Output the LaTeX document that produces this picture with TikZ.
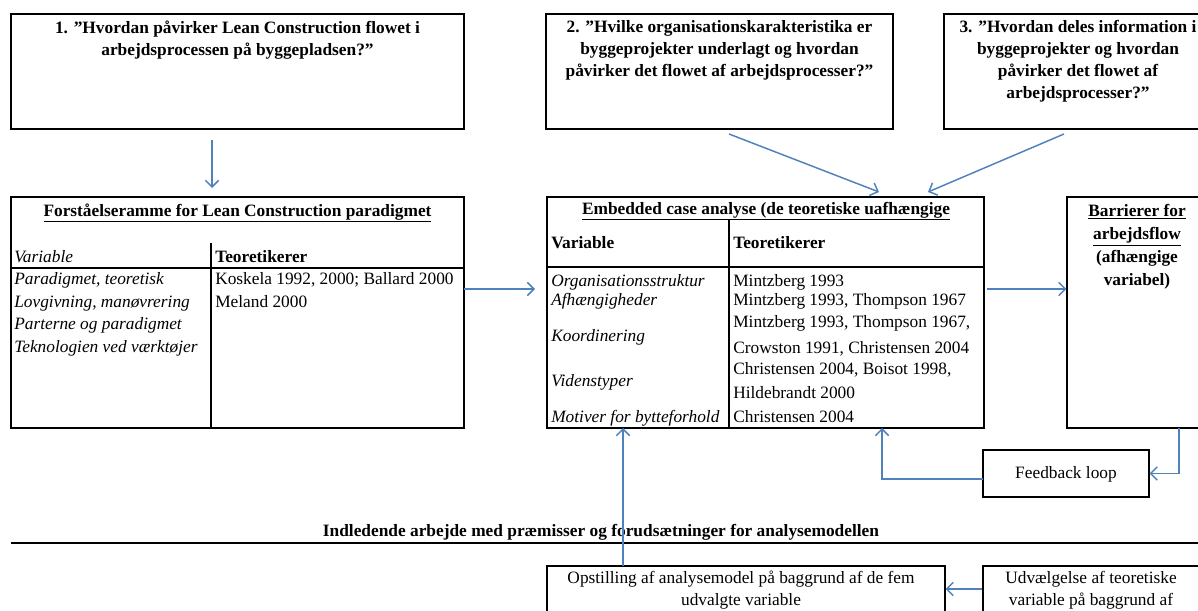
\documentclass[tikz,border=0pt]{standalone}
\usepackage{fontspec}
\setmainfont{Liberation Serif}
\usetikzlibrary{arrows.meta,fit}
\definecolor{arrowblue}{RGB}{79,129,189}
\newcommand\bodysize{\fontsize{13}{16.5}\selectfont}
\newcommand\dq{\char"22\relax}

\tikzset{
  box/.style={draw, line width=0.9pt, inner sep=0pt},
  txt/.style={inner sep=0pt, font=\bodysize},
  lbl/.style={txt, anchor=base west},
  ctr/.style={txt, anchor=north, align=center},
  rulestyle/.style={line width=0.9pt},
  arr/.style={draw=arrowblue, line width=1.1pt, -{Straight Barb[length=5pt,width=10pt]}}
}

\begin{document}
\begin{tikzpicture}[x=0.75pt,y=-0.75pt]
\useasboundingbox (0,0) rectangle (1198,610);
\clip (0,0) rectangle (1198,610);

% ---------- research questions ----------
\node[box, fit={(11,14) (464,129)}] (q1) {};
\node[ctr, font=\bodysize\bfseries] (q1t) at (237.5,21)
  {1. \dq Hvordan påvirker Lean Construction flowet i\\arbejdsprocessen på byggepladsen?\dq};

\node[box, fit={(546,14) (893,129)}] (q2) {};
\node[ctr, font=\bodysize\bfseries] (q2t) at (719.5,20)
  {2. \dq Hvilke organisationskarakteristika er\\byggeprojekter underlagt og hvordan\\påvirker det flowet af arbejdsprocesser?”};

\node[box, fit={(944,14) (1212,129)}] (q3) {};
\node[ctr, font=\bodysize\bfseries] (q3t) at (1078,20)
  {3. \dq Hvordan deles information i\\byggeprojekter og hvordan\\påvirker det flowet af\\arbejdsprocesser?”};

% ---------- left table: Lean Construction ----------
\node[box, fit={(11,197) (464,428)}] (lt) {};
\node[txt, anchor=base, font=\bodysize\bfseries] (ltt) at (237.5,216)
  {\underline{Forståelseramme for Lean Construction paradigmet}};
\coordinate (ltdivtop) at (211,243);
\coordinate (ltdivbot) at (211,428);
\draw[rulestyle] (ltdivtop) -- (ltdivbot);
\draw[rulestyle] (lt.west |- 0,268) -- (lt.east |- 0,268);
\node[lbl, font=\bodysize\itshape] (lth1) at (14,262) {Variable};
\node[lbl, font=\bodysize\bfseries] (lth2) at (215,262) {Teoretikerer};
\node[lbl, font=\bodysize\itshape] (lv1) at (14,284) {Paradigmet, teoretisk};
\node[lbl, font=\bodysize\itshape] (lv2) at (14,307) {Lovgivning, manøvrering};
\node[lbl, font=\bodysize\itshape] (lv3) at (14,329) {Parterne og paradigmet};
\node[lbl, font=\bodysize\itshape] (lv4) at (14,352) {Teknologien ved værktøjer};
\node[lbl] (lr1) at (215,284) {Koskela 1992, 2000; Ballard 2000};
\node[lbl] (lr2) at (215,307) {Meland 2000};

% ---------- middle table: embedded case analysis ----------
\node[box, fit={(547,197) (984,428)}] (mt) {};
\node[txt, anchor=base, font=\bodysize\bfseries] (mtt) at (766,214)
  {\underline{Embedded case analyse (de teoretiske uafhængige}};
\coordinate (mtdivtop) at (729,220);
\coordinate (mtdivbot) at (729,428);
\draw[rulestyle] (mtdivtop) -- (mtdivbot);
\draw[rulestyle] (mt.west |- 0,267) -- (mt.east |- 0,267);
\node[lbl, font=\bodysize\bfseries] (mth1) at (551,248) {Variable};
\node[lbl, font=\bodysize\bfseries] (mth2) at (733,248) {Teoretikerer};
\node[lbl, font=\bodysize\itshape] (mv1) at (551,286) {Organisationsstruktur};
\node[lbl, font=\bodysize\itshape] (mv2) at (551,305) {Afhængigheder};
\node[lbl, font=\bodysize\itshape] (mv3) at (551,341) {Koordinering};
\node[lbl, font=\bodysize\itshape] (mv4) at (551,386) {Videnstyper};
\node[lbl, font=\bodysize\itshape] (mv5) at (551,422) {Motiver for bytteforhold};
\node[lbl] (mr1) at (733,286) {Mintzberg 1993};
\node[lbl] (mr2) at (733,305) {Mintzberg 1993, Thompson 1967};
\node[lbl] (mr3) at (733,327) {Mintzberg 1993, Thompson 1967,};
\node[lbl] (mr4) at (733,353) {Crowston 1991, Christensen 2004};
\node[lbl] (mr5) at (733,374) {Christensen 2004, Boisot 1998,};
\node[lbl] (mr6) at (733,398) {Hildebrandt 2000};
\node[lbl] (mr7) at (733,422) {Christensen 2004};

% ---------- dependent variable ----------
\node[box, fit={(1067,197) (1215,428)}] (rb) {};
\node[ctr, font={\fontsize{13}{17.25}\selectfont\bfseries}] (rbt) at (1137,204)
  {\underline{Barrierer for}\\\underline{arbejdsflow}\\(afhængige\\variabel)};

% ---------- feedback ----------
\node[box, fit={(983,450) (1149,497)}] (fb) {};
\node[txt] (fbt) at (1066,474) {Feedback loop};

% ---------- preliminary work ----------
\coordinate (rulel) at (11,543);
\coordinate (ruler) at (1198,543);
\draw[rulestyle] (rulel) -- (ruler);
\node[txt, anchor=base, font=\bodysize\bfseries] (pre) at (601,536)
  {Indledende arbejde med præmisser og forudsætninger for analysemodellen};

\node[box, fit={(547,566) (945,612)}] (bb1) {};
\node[ctr] (bb1t) at (741,571)
  {Opstilling af analysemodel på baggrund af de fem\\udvalgte variable};
\node[box, fit={(983,566) (1215,612)}] (bb2) {};
\node[ctr] (bb2t) at (1091,571)
  {Udvælgelse af teoretiske\\variable på baggrund af};

% ---------- connectors ----------
\coordinate (a1s) at (212,140);
\coordinate (a1e) at (212,188);
\draw[arr] (a1s) -- (a1e);

\coordinate (a2s) at (729,134);
\coordinate (a2e) at (879,192);
\draw[arr] (a2s) -- (a2e);

\coordinate (a3s) at (1064,134);
\coordinate (a3e) at (928,192);
\draw[arr] (a3s) -- (a3e);

\coordinate (ltout) at (464,289);
\coordinate (mtin) at (535,289);
\draw[arr] (ltout) -- (mtin);

\coordinate (mtout) at (987,289);
\draw[arr] (mtout) -- (rb.west |- mtout);

\coordinate (rbout) at (1179,428);
\draw[arr] (rbout) |- (fb.east);

\coordinate (fbout) at (983,479);
\coordinate (mtfb) at (882,428);
\draw[arr] (fbout) -| (mtfb);

\coordinate (bb1out) at (623,566);
\coordinate (mtbb) at (623,428);
\draw[arr] (bb1out) -- (mtbb);

\draw[arr] (bb2.west) -- (bb1.east);
\end{tikzpicture}
\end{document}
